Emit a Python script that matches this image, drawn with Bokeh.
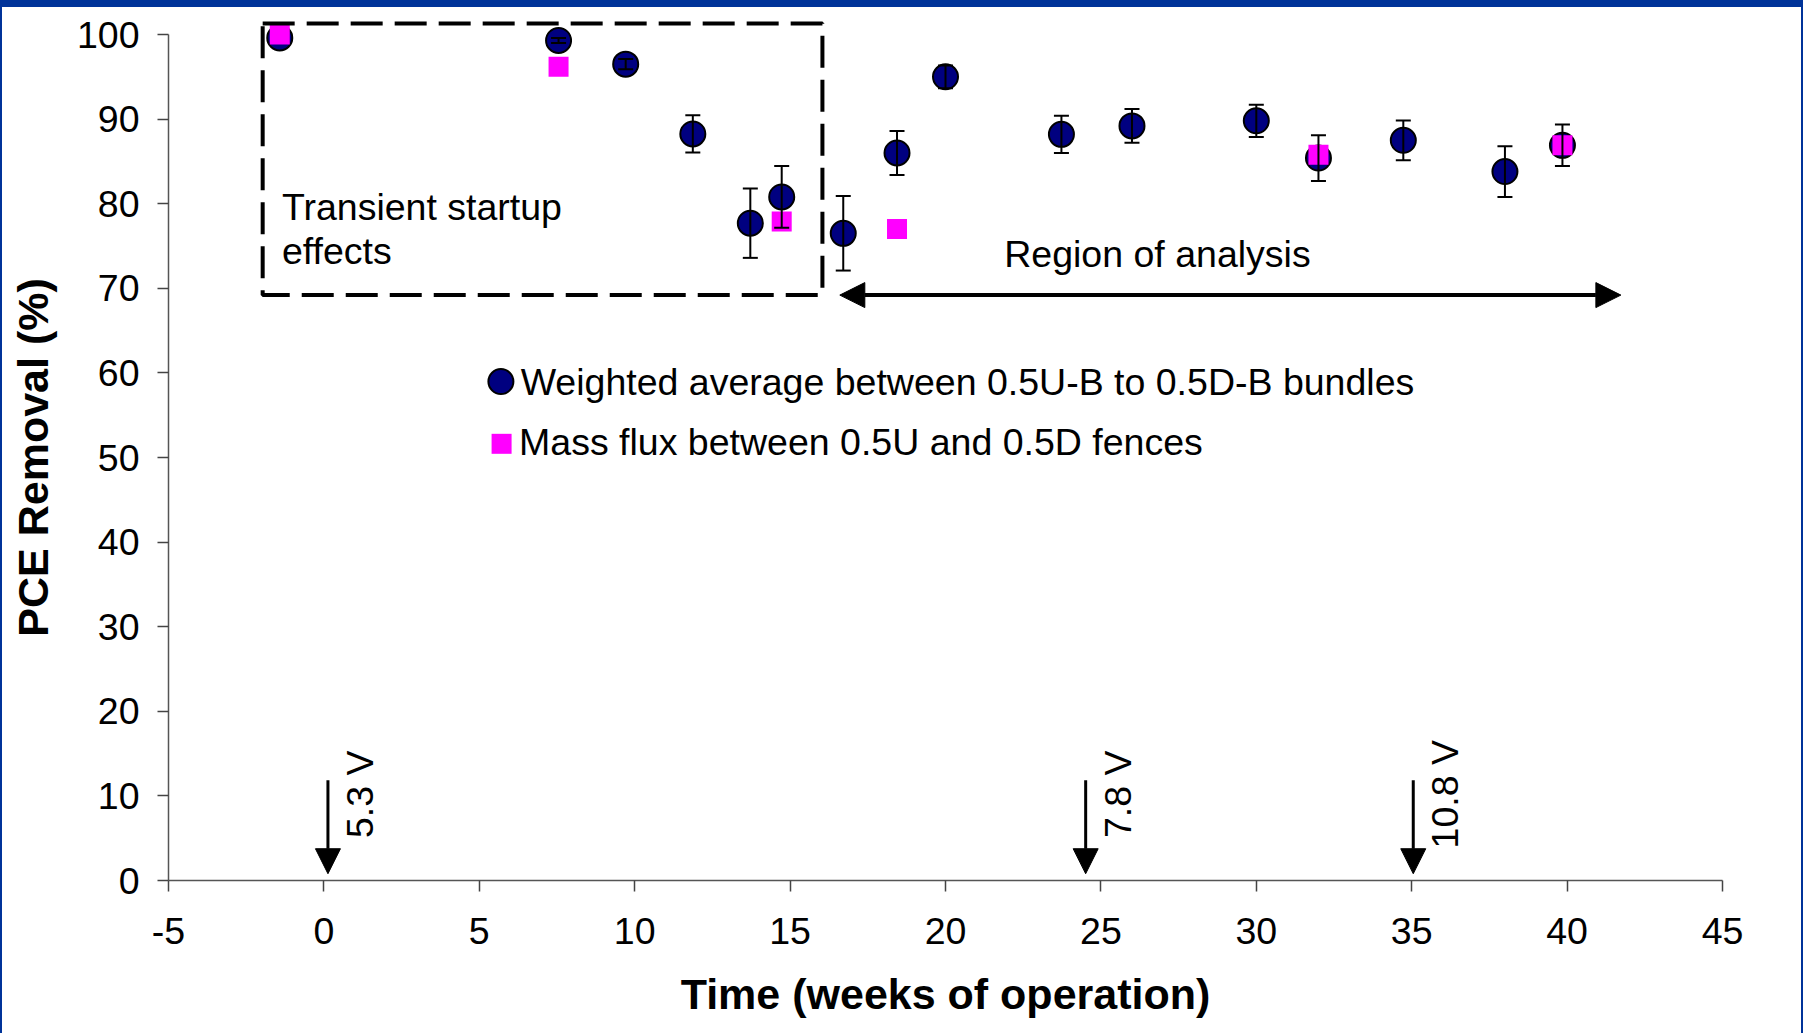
from math import pi

from bokeh.plotting import figure
from bokeh.models import ColumnDataSource, FixedTicker, Arrow, NormalHead, Range1d
from bokeh.layouts import column
from bokeh.core.properties import value
from bokeh.embed import file_html
from bokeh.resources import INLINE

# Weighted average PCE removal between the 0.5U-B and 0.5D-B bundles
avg_weeks = [-1.42, 7.55, 9.71, 11.87, 13.72, 14.73, 16.71, 18.44, 20.0,
             23.73, 26.0, 30.0, 32.0, 34.73, 38.0, 39.85]
avg_removal = [99.6, 99.3, 96.5, 88.25, 77.7, 80.8, 76.5, 86.0, 95.0,
               88.2, 89.2, 89.8, 85.4, 87.5, 83.8, 86.9]
avg_error = [0.0, 0.3, 0.6, 2.2, 4.1, 3.65, 4.4, 2.6, 1.35,
             2.2, 2.0, 1.9, 2.7, 2.35, 3.0, 2.45]

# Mass-flux PCE removal between the 0.5U and 0.5D fences
flux_weeks = [-1.42, 7.55, 14.73, 18.44, 32.0, 39.85]
flux_removal = [100.0, 96.2, 77.9, 77.0, 85.8, 86.9]

# Applied voltage steps
voltage_weeks = [0.13, 24.51, 35.05]
voltage_labels = ["5.3 V", "7.8 V", "10.8 V"]

x_ticks = list(range(-5, 46, 5))
y_ticks = list(range(0, 101, 10))

series_names = ["Weighted average between 0.5U-B to 0.5D-B bundles",
                "Mass flux between 0.5U and 0.5D fences"]

FONT = value("Liberation Sans")
TEXT_SIZE = "37.5px"
NAVY = "#000080"
MAGENTA = "#FF00FF"

p = figure(width=1799, height=1026,
           x_range=Range1d(-5, 45), y_range=Range1d(0, 102.84),
           output_backend="svg", toolbar_location=None,
           min_border_left=166, min_border_right=79,
           min_border_top=3, min_border_bottom=153,
           background_fill_color="white", border_fill_color="white")
p.outline_line_color = None
p.xgrid.grid_line_color = None
p.ygrid.grid_line_color = None

# axes
for ax in (p.xaxis, p.yaxis):
    ax.axis_line_color = "#555555"
    ax.axis_line_width = 1.5
    ax.major_tick_line_color = "#444444"
    ax.major_tick_line_width = 1.5
    ax.major_tick_out = 11
    ax.major_tick_in = 0
    ax.minor_tick_line_color = None
    ax.major_label_text_font = "Liberation Sans"
    ax.major_label_text_font_size = TEXT_SIZE
    ax.major_label_text_color = "black"
    ax.axis_label_text_font = "Liberation Sans"
    ax.axis_label_text_font_size = "43px"
    ax.axis_label_text_font_style = "bold"
    ax.axis_label_text_color = "black"

p.xaxis.ticker = FixedTicker(ticks=x_ticks)
p.yaxis.ticker = FixedTicker(ticks=y_ticks)
p.xaxis.major_label_overrides = {t: str(t) for t in x_ticks}
p.yaxis.bounds = (0, 100)
p.xaxis.axis_label = "Time (weeks of operation)"
# two trailing no-break spaces keep the title centred on the 0-100 span
p.yaxis.axis_label = "PCE Removal (%)\u00a0\u00a0"
p.xaxis.major_label_standoff = 26
p.yaxis.major_label_standoff = 18
p.xaxis.axis_label_standoff = 23
p.yaxis.axis_label_standoff = 17

# data series
avg_src = ColumnDataSource(dict(x=avg_weeks, y=avg_removal))
flux_src = ColumnDataSource(dict(x=flux_weeks, y=flux_removal))

p.scatter("x", "y", source=avg_src, marker="circle", size=25,
          fill_color=NAVY, line_color="black", line_width=2)
p.scatter("x", "y", source=flux_src, marker="square", size=20,
          fill_color=MAGENTA, line_color=None)

# error bars for the weighted average
ex, lo, hi = [], [], []
for xv, yv, ev in zip(avg_weeks, avg_removal, avg_error):
    if ev > 0:
        ex.append(xv)
        lo.append(yv - ev)
        hi.append(yv + ev)
err_src = ColumnDataSource(dict(x=ex, lo=lo, hi=hi))
p.segment(x0="x", y0="lo", x1="x", y1="hi", source=err_src,
          line_color="black", line_width=2)
p.scatter("x", "lo", source=err_src, marker="dash", size=15,
          line_color="black", line_width=2)
p.scatter("x", "hi", source=err_src, marker="dash", size=15,
          line_color="black", line_width=2)

# startup window and analysis window
p.quad(left=[-1.97], right=[16.04], bottom=[69.2], top=[101.3],
       fill_color=None, line_color="black", line_width=4, line_dash="32 12")
p.text(x=[-1.35, -1.35], y=[79.58, 74.45], text=["Transient startup", "effects"],
       text_font=FONT, text_font_size=TEXT_SIZE, text_color="black",
       text_align="left", text_baseline="alphabetic")

p.add_layout(Arrow(start=NormalHead(size=25, fill_color="black", line_color="black"),
                   end=NormalHead(size=25, fill_color="black", line_color="black"),
                   x_start=16.6, y_start=69.2, x_end=41.73, y_end=69.2,
                   line_color="black", line_width=4))
p.text(x=[21.89], y=[74.1], text=["Region of analysis"],
       text_font=FONT, text_font_size=TEXT_SIZE, text_color="black",
       text_align="left", text_baseline="alphabetic")

# voltage step markers
for wk in voltage_weeks:
    p.add_layout(Arrow(end=NormalHead(size=25, fill_color="black", line_color="black"),
                       x_start=wk, y_start=11.85, x_end=wk, y_end=0.8,
                       line_color="black", line_width=3))
p.text(x=[w + 1.03 for w in voltage_weeks], y=[10.2] * len(voltage_weeks),
       text=voltage_labels, angle=pi / 2,
       text_font=FONT, text_font_size=TEXT_SIZE, text_color="black",
       text_align="center", text_baseline="alphabetic")

# legend
p.scatter(x=[5.695], y=[58.98], marker="circle", size=25,
          fill_color=NAVY, line_color="black", line_width=2)
p.scatter(x=[5.717], y=[51.62], marker="square", size=20,
          fill_color=MAGENTA, line_color=None)
p.text(x=[6.33, 6.28], y=[58.9, 51.85], text=series_names,
       text_font=FONT, text_font_size=TEXT_SIZE, text_color="black",
       text_align="left", text_baseline="alphabetic")

panel = column(p, margin=(7, 2, 0, 2), styles={"background-color": "white"})
page = column(panel, styles={"background-color": "#003399"})

open("out.html", "w").write(file_html(page, INLINE))
